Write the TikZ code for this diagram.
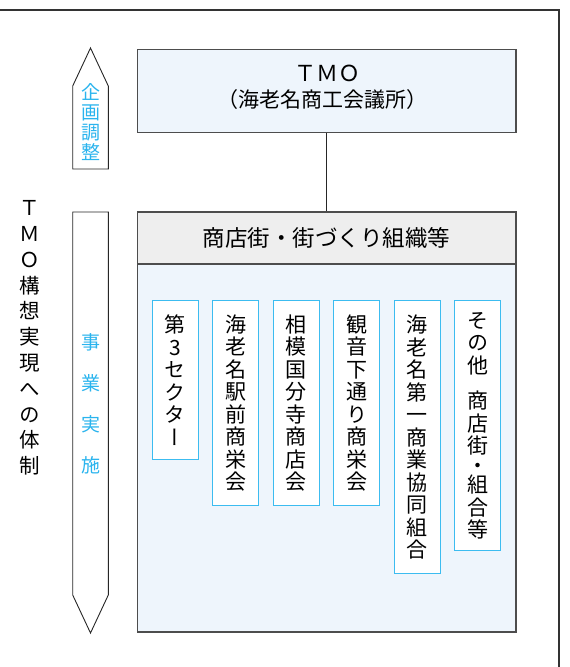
\documentclass[tikz,border=0pt]{standalone}
\usepackage{fontspec}
\setmainfont{Noto Sans CJK JP}
\newfontfamily\jpv[RawFeature=+vert]{Noto Sans CJK JP}
\usetikzlibrary{positioning}
\definecolor{framegray}{HTML}{4D4D4D}
\definecolor{tmoblue}{HTML}{EEF5FC}
\definecolor{headgray}{HTML}{EEEEEE}
\definecolor{textcyan}{HTML}{2AB4EE}
\definecolor{boxcyan}{HTML}{3CBCF0}
\tikzstyle{bigbox}=[draw=framegray,line width=1.3pt,fill=tmoblue,inner sep=0pt,minimum width=378.5pt]
\tikzstyle{headbox}=[bigbox,fill=headgray]
\tikzstyle{groupbox}=[draw=boxcyan,line width=1.2pt,fill=white,minimum width=46pt,inner sep=0pt,anchor=north,align=center,font=\jpv\fontsize{21pt}{22.5pt}\selectfont]
\tikzstyle{arrowshape}=[draw=black!85,line width=0.9pt,fill=white]
\tikzstyle{sidetext}=[align=center,text=textcyan,inner sep=0pt]
\tikzstyle{edge}=[draw=black!85,line width=1pt]
\tikzstyle{frame}=[draw=black!80,line width=1.1pt]

\begin{document}
\begin{tikzpicture}[x=1pt,y=-1pt]
    \useasboundingbox (0,0) rectangle (570,667);
    \path[frame] (0,10) -- (559,10) -- (559,667);

    % side arrows
    \def\al{72.7};
    \def\ar{108.3};
    \def\am{90.5};
    \path[arrowshape] (\al,169) -- (\al,86) -- (\am,48) -- (\ar,86) -- (\ar,169) -- cycle;
    \path[arrowshape] (\al,212) -- (\ar,212) -- (\ar,595) -- (\am,633) -- (\al,595) -- cycle;
    \node[sidetext,font=\jpv\fontsize{19pt}{20pt}\selectfont] (plan) at (\am,122.5) {企\\画\\調\\整};
    \node[sidetext,font=\jpv\fontsize{19pt}{41pt}\selectfont] (exec) at (\am,403.5) {事\\業\\実\\施};

    \node[align=center,inner sep=0pt,font=\jpv\fontsize{20.5pt}{25.8pt}\selectfont] (title) at (30,338) {Ｔ\\Ｍ\\Ｏ\\構\\想\\実\\現\\へ\\の\\体\\制};

    % TMO
    \node[bigbox,minimum height=83pt] (tmo) at (326.7,90.7) {};
    \node[font=\fontsize{22pt}{22pt}\selectfont] (tmoname) at (327,73.5) {ＴＭＯ};
    \node[font=\fontsize{21pt}{21pt}\selectfont] (tmosub) at (322,100) {（海老名商工会議所）};

    % organisations
    \node[bigbox,minimum height=368pt] (orgbody) at (326.7,448) {};
    \node[headbox,minimum height=52pt] (orghead) at (326.7,238) {};
    \node[font=\fontsize{22.5pt}{22.5pt}\selectfont] (headtext) at (326.5,238) {商店街・街づくり組織等};
    \path[edge] (tmo) -- (orghead);

    \foreach \x/\name/\len/\txt in {{175.3/sector/159/第\\3\\セ\\ク\\タ\\ー},
        {235.8/ekimae/205/海\\老\\名\\駅\\前\\商\\栄\\会},
        {296.3/sagami/205/相\\模\\国\\分\\寺\\商\\店\\会},
        {356.8/kannon/205/観\\音\\下\\通\\り\\商\\栄\\会},
        {417.3/daiichi/273/海\\老\\名\\第\\一\\商\\業\\協\\同\\組\\合},
        {477.7/others/250/そ\\の\\他\\[13pt]商\\店\\街\\[-3pt]・\\[-3pt]組\\合\\等}}
        \node[groupbox,minimum height=\len pt] (\name) at (\x,300) {\txt};

\end{tikzpicture}
\end{document}
